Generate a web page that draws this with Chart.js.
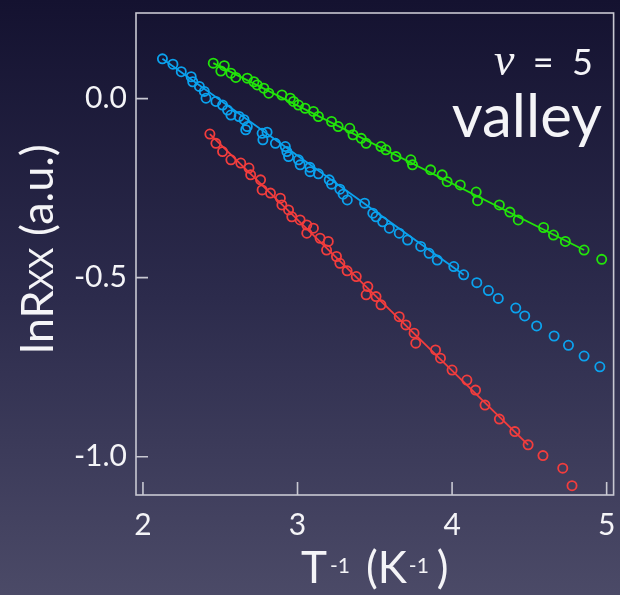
<!DOCTYPE html>
<html>
<head>
<meta charset="utf-8">
<script src="https://cdn.jsdelivr.net/npm/chart.js@4.4.1/dist/chart.umd.min.js"></script>
<style>
  html, body { margin: 0; padding: 0; background: #2f2e4f; }
  canvas { display: block; }
</style>
</head>
<body>
<canvas id="chart" width="620" height="595"></canvas>
<script>
// Tick positions
const xTicks = [2, 3, 4, 5];
const yTicks = [0, -0.5, -1.0];

// Green series: ln Rxx versus 1/T
const greenX = [2.455,2.504,2.526,2.569,2.601,2.675,2.718,2.739,2.782,2.814,2.899,2.953,2.974,3.006,3.049,3.103,3.135,3.220,3.263,3.338,3.359,3.412,3.444,3.540,3.572,3.637,3.733,3.744,3.861,3.936,3.968,4.053,4.156,4.165,4.306,4.374,4.428,4.592,4.656,4.733,4.854,4.968];
const greenY = [0.099,0.077,0.092,0.071,0.059,0.057,0.047,0.038,0.029,0.015,0.010,0.001,-0.008,-0.018,-0.027,-0.036,-0.050,-0.064,-0.078,-0.083,-0.101,-0.111,-0.125,-0.134,-0.143,-0.162,-0.171,-0.185,-0.199,-0.213,-0.232,-0.241,-0.261,-0.285,-0.297,-0.317,-0.339,-0.360,-0.381,-0.399,-0.423,-0.449];

// Blue series
const blueX = [2.126,2.194,2.248,2.312,2.322,2.365,2.397,2.408,2.472,2.515,2.547,2.569,2.622,2.654,2.675,2.665,2.771,2.803,2.776,2.857,2.921,2.931,2.942,3.006,3.017,3.080,3.081,3.135,3.205,3.220,3.274,3.295,3.322,3.434,3.487,3.508,3.551,3.594,3.658,3.712,3.797,3.851,3.904,4.011,4.075,4.160,4.235,4.299,4.412,4.470,4.547,4.660,4.753,4.854,4.956];
const blueY = [0.111,0.096,0.075,0.061,0.047,0.034,0.020,0.001,-0.008,-0.018,-0.032,-0.046,-0.050,-0.059,-0.078,-0.087,-0.097,-0.094,-0.115,-0.125,-0.134,-0.148,-0.162,-0.171,-0.185,-0.192,-0.204,-0.210,-0.227,-0.239,-0.253,-0.267,-0.283,-0.292,-0.320,-0.330,-0.344,-0.362,-0.376,-0.395,-0.413,-0.432,-0.451,-0.469,-0.492,-0.514,-0.536,-0.558,-0.585,-0.607,-0.635,-0.663,-0.689,-0.719,-0.749];

// Red series
const redX = [2.433,2.472,2.515,2.569,2.633,2.686,2.697,2.761,2.771,2.825,2.889,2.899,2.942,2.963,3.017,3.060,3.060,3.103,3.146,3.199,3.188,3.252,3.274,3.321,3.380,3.455,3.444,3.508,3.540,3.658,3.701,3.754,3.765,3.893,3.925,4.000,4.096,4.152,4.213,4.306,4.406,4.492,4.588,4.716,4.776];
const redY = [-0.099,-0.125,-0.148,-0.171,-0.180,-0.194,-0.213,-0.227,-0.255,-0.264,-0.278,-0.297,-0.311,-0.330,-0.339,-0.353,-0.376,-0.362,-0.390,-0.399,-0.423,-0.441,-0.460,-0.481,-0.497,-0.525,-0.548,-0.553,-0.576,-0.609,-0.632,-0.655,-0.683,-0.702,-0.725,-0.758,-0.786,-0.814,-0.856,-0.895,-0.930,-0.967,-0.997,-1.032,-1.081];

// Activation fits (end points of each straight line)
const greenFitX = [2.455, 4.854];
const greenFitY = [0.099, -0.423];
const blueFitX = [2.126, 4.075];
const blueFitY = [0.111, -0.492];
const redFitX = [2.433, 4.492];
const redFitY = [-0.099, -0.967];

const GREEN = '#22e40a';
const BLUE = '#0ba2ee';
const RED = '#f23d3d';
const TEXT = '#f4f4f7';
const FRAME = '#c8c8d2';
const FONT = 'Lato, "Open Sans", sans-serif';

const pts = (xs, ys) => xs.map((x, i) => ({ x, y: ys[i] }));

function markers(xs, ys, color) {
  return {
    data: pts(xs, ys), showLine: false, borderColor: color, backgroundColor: 'rgba(0,0,0,0)',
    pointStyle: 'circle', pointRadius: 4.6, pointBorderWidth: 1.8, pointHoverRadius: 4.6
  };
}
function fit(xs, ys, color) {
  return {
    data: pts(xs, ys), showLine: true, borderColor: color, borderWidth: 1.8,
    pointRadius: 0, pointHoverRadius: 0, fill: false
  };
}

// Page backdrop: vertical dark-navy to slate gradient
const backdrop = {
  id: 'backdrop',
  beforeDraw(chart) {
    const { ctx, width, height } = chart;
    const g = ctx.createLinearGradient(0, 0, 0, height);
    g.addColorStop(0, '#141230');
    g.addColorStop(0.5, '#2c2b4c');
    g.addColorStop(1, '#4b4a67');
    ctx.save();
    ctx.fillStyle = g;
    ctx.fillRect(0, 0, width, height);
    ctx.restore();
  }
};

// Frame box with inward ticks and the x tick labels under it
const frame = {
  id: 'frame',
  afterDraw(chart) {
    const { ctx, chartArea: a, scales } = chart;
    ctx.save();
    ctx.strokeStyle = FRAME;
    ctx.lineWidth = 1.6;
    ctx.strokeRect(a.left, a.top, a.right - a.left, a.bottom - a.top);
    ctx.beginPath();
    yTicks.forEach(v => {
      const y = scales.y.getPixelForValue(v);
      ctx.moveTo(a.left, y); ctx.lineTo(a.left + 12, y);
    });
    xTicks.forEach(v => {
      const x = scales.x.getPixelForValue(v);
      ctx.moveTo(x, a.bottom); ctx.lineTo(x, a.bottom - 13);
    });
    ctx.stroke();

    ctx.fillStyle = TEXT;
    ctx.font = `30px ${FONT}`;
    ctx.textAlign = 'center';
    ctx.textBaseline = 'alphabetic';
    xTicks.forEach(v => ctx.fillText(String(v), scales.x.getPixelForValue(v), a.bottom + 40));
    ctx.restore();
  }
};

// Axis titles and the panel annotation
const titles = {
  id: 'titles',
  afterDraw(chart) {
    const { ctx, chartArea: a } = chart;
    ctx.save();
    ctx.fillStyle = TEXT;
    ctx.textBaseline = 'alphabetic';
    ctx.textAlign = 'left';

    // x title: T^-1 (K^-1)  [text, font, raise, gap after]
    const big = `44px ${FONT}`, sup = `21px ${FONT}`;
    const parts = [['T', big, 0, 3], ['-1', sup, -10, 16], ['(K', big, 0, 2], ['-1', sup, -10, 8], [')', big, 0, 0]];
    let total = 0;
    parts.forEach(p => { ctx.font = p[1]; total += ctx.measureText(p[0]).width + p[3]; });
    let x = (a.left + a.right) / 2 - total / 2;
    const base = 583;
    parts.forEach(p => { ctx.font = p[1]; ctx.fillText(p[0], x, base + p[2]); x += ctx.measureText(p[0]).width + p[3]; });

    // y title: lnRxx (a.u.), rotated
    ctx.save();
    ctx.translate(53, 249);
    ctx.rotate(-Math.PI / 2);
    const yp = [['lnR', `45px ${FONT}`], ['XX', `33px ${FONT}`], [' (a.u.)', `45px ${FONT}`]];
    let tw = 0;
    yp.forEach(p => { ctx.font = p[1]; tw += ctx.measureText(p[0]).width; });
    let yx = -tw / 2;
    yp.forEach(p => { ctx.font = p[1]; ctx.fillText(p[0], yx, 0); yx += ctx.measureText(p[0]).width; });
    ctx.restore();

    // annotation: ν = 5 / valley
    ctx.textAlign = 'right';
    ctx.font = `36px ${FONT}`;
    const rest = '  =  5';
    const rw = ctx.measureText(rest).width;
    ctx.fillText(rest, 593, 75);
    ctx.font = `italic 46px "Liberation Serif", "DejaVu Serif", serif`;
    ctx.fillText('\u03bd', 593 - rw, 75);
    ctx.font = `60px ${FONT}`;
    ctx.fillText('valley', 602, 137);
    ctx.restore();
  }
};

new Chart(document.getElementById('chart'), {
  type: 'scatter',
  data: {
    datasets: [
      fit(greenFitX, greenFitY, GREEN),
      fit(blueFitX, blueFitY, BLUE),
      fit(redFitX, redFitY, RED),
      markers(greenX, greenY, GREEN),
      markers(blueX, blueY, BLUE),
      markers(redX, redY, RED)
    ]
  },
  options: {
    responsive: false,
    animation: false,
    events: [],
    layout: { padding: { left: 0, right: 3, top: 13, bottom: 0 } },
    plugins: { legend: { display: false }, tooltip: { enabled: false } },
    scales: {
      x: {
        type: 'linear', min: 1.955, max: 5.045,
        afterBuildTicks: s => { s.ticks = xTicks.map(v => ({ value: v })); },
        afterFit: s => { s.height = 100; s.paddingLeft = 0; s.paddingRight = 0; },
        grid: { display: false, drawTicks: false },
        border: { display: false },
        ticks: { display: false }
      },
      y: {
        type: 'linear', min: -1.107, max: 0.239,
        afterBuildTicks: s => { s.ticks = yTicks.map(v => ({ value: v })); },
        afterFit: s => { s.width = 136; s.paddingTop = 0; s.paddingBottom = 0; },
        grid: { display: false, drawTicks: false },
        border: { display: false },
        ticks: { color: TEXT, font: { family: FONT, size: 30 }, padding: 9,
                 callback: v => v.toFixed(1) }
      }
    }
  },
  plugins: [backdrop, frame, titles]
});
</script>
</body>
</html>
